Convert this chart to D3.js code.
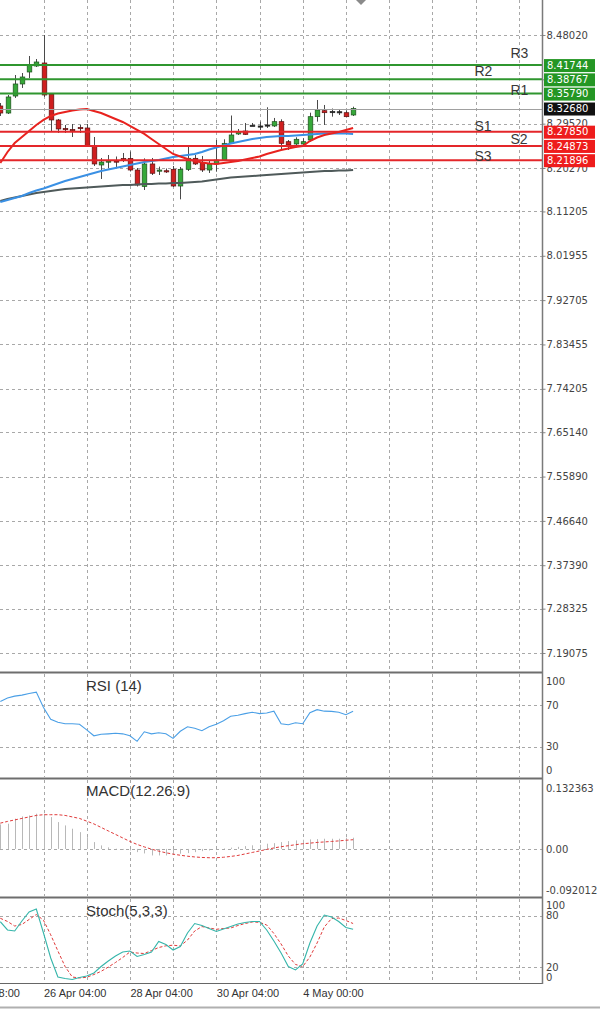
<!DOCTYPE html>
<html><head><meta charset="utf-8">
<script src="https://cdn.jsdelivr.net/npm/d3@7"></script>
<style>html,body{margin:0;padding:0;background:#fff;} svg{display:block;}</style>
</head><body>
<svg id="c" width="600" height="1012"></svg>
<script>
// ---------- DATA (H4 candles, index 0..49) ----------
const opens  = [8.3321,8.3174,8.3529,8.3780,8.4030,8.4155,8.4218,8.3571,8.3029,8.2851,8.2830,8.2872,8.2862,8.2486,8.2090,8.2163,8.2173,8.2225,8.2225,8.1985,8.1641,8.2111,8.1975,8.1970,8.1999,8.1651,8.1999,8.2229,8.2138,8.1985,8.2111,8.2194,8.2542,8.2737,8.2799,8.2915,8.2904,8.2925,8.2904,8.2994,8.2576,8.2528,8.2528,8.2611,8.3098,8.3223,8.3206,8.3202,8.3181,8.3133];
const highs  = [8.3383,8.3550,8.3967,8.4009,8.4364,8.4301,8.4802,8.3592,8.3050,8.2925,8.2945,8.2925,8.2945,8.2674,8.2236,8.2298,8.2267,8.2340,8.2371,8.2027,8.2228,8.2236,8.2055,8.2017,8.2069,8.2048,8.2486,8.2298,8.2278,8.2194,8.2611,8.2626,8.3122,8.2841,8.2966,8.2966,8.2994,8.3294,8.3071,8.3043,8.2611,8.2668,8.2647,8.3181,8.3446,8.3342,8.3268,8.3248,8.3227,8.3306];
const lows   = [8.3112,8.3154,8.3488,8.3697,8.3905,8.4134,8.3509,8.2778,8.2757,8.2757,8.2674,8.2757,8.2466,8.2069,8.1798,8.2027,8.2027,8.2152,8.1954,8.1641,8.1568,8.1881,8.1881,8.1923,8.1631,8.1373,8.1965,8.2090,8.1944,8.1923,8.1950,8.2173,8.2528,8.2716,8.2716,8.2904,8.2820,8.2862,8.2883,8.2398,8.2403,8.2459,8.2507,8.2576,8.2994,8.2925,8.3098,8.3133,8.3081,8.3112];
const closes = [8.3174,8.3509,8.3780,8.3926,8.4176,8.4239,8.3550,8.3029,8.2841,8.2830,8.2810,8.2851,8.2486,8.2111,8.2152,8.2173,8.2163,8.2184,8.1985,8.1672,8.2111,8.1917,8.1985,8.1954,8.1651,8.1999,8.2229,8.2111,8.1985,8.2111,8.2194,8.2542,8.2716,8.2785,8.2728,8.2919,8.2898,8.2919,8.2994,8.2542,8.2507,8.2626,8.2576,8.3098,8.3237,8.3181,8.3198,8.3196,8.3098,8.3268];

const maRed  = [8.2131,8.2361,8.2548,8.2674,8.2799,8.2925,8.3029,8.3112,8.3164,8.3195,8.3227,8.3247,8.3258,8.3216,8.3174,8.3112,8.3050,8.2987,8.2904,8.2820,8.2737,8.2632,8.2528,8.2424,8.2320,8.2267,8.2215,8.2173,8.2142,8.2121,8.2111,8.2131,8.2152,8.2173,8.2204,8.2236,8.2267,8.2320,8.2361,8.2403,8.2434,8.2465,8.2486,8.2590,8.2663,8.2716,8.2747,8.2778,8.2820,8.2862];
const maBlue = [8.1317,8.1359,8.1401,8.1443,8.1506,8.1558,8.1599,8.1651,8.1704,8.1756,8.1798,8.1839,8.1881,8.1923,8.1965,8.1996,8.2027,8.2059,8.2090,8.2121,8.2152,8.2173,8.2194,8.2225,8.2257,8.2278,8.2298,8.2320,8.2361,8.2413,8.2455,8.2497,8.2538,8.2570,8.2601,8.2632,8.2653,8.2674,8.2684,8.2695,8.2695,8.2705,8.2716,8.2726,8.2737,8.2747,8.2747,8.2747,8.2747,8.2737];
const maGray = [8.1338,8.1380,8.1411,8.1443,8.1474,8.1506,8.1526,8.1547,8.1568,8.1589,8.1599,8.1610,8.1620,8.1631,8.1641,8.1651,8.1662,8.1672,8.1672,8.1683,8.1693,8.1693,8.1704,8.1704,8.1714,8.1714,8.1724,8.1735,8.1745,8.1766,8.1787,8.1808,8.1829,8.1839,8.1850,8.1860,8.1870,8.1881,8.1891,8.1902,8.1912,8.1923,8.1933,8.1944,8.1954,8.1965,8.1965,8.1975,8.1975,8.1985];

const rsi = [73.9,77.1,79.0,80.0,81.5,82.9,68.0,56.6,53.7,52.2,52.2,51.7,46.3,40.5,42.0,42.4,42.9,42.4,40.5,35.1,44.4,42.4,43.4,42.4,38.0,44.9,49.3,47.8,45.4,49.3,51.7,55.1,59.5,60.5,62.0,63.4,62.0,62.6,64.4,52.2,51.2,53.2,52.2,62.9,65.9,64.4,64.2,63.4,61.0,64.4];

const macdHist = [0.0474,0.0488,0.0585,0.0629,0.0648,0.0681,0.0681,0.0616,0.0519,0.0455,0.0391,0.0325,0.0228,0.0132,0.0068,0.0030,0.0005,-0.0015,-0.0030,-0.0062,-0.0087,-0.0126,-0.0126,-0.0126,-0.0106,-0.0093,-0.0081,-0.0062,-0.0043,-0.0029,-0.0010,0.0010,0.0025,0.0040,0.0055,0.0070,0.0080,0.0101,0.0112,0.0132,0.0151,0.0165,0.0178,0.0184,0.0190,0.0197,0.0197,0.0197,0.0217,0.0217];
const macdSignal = [0.0499,0.0532,0.0561,0.0590,0.0619,0.0648,0.0662,0.0662,0.0662,0.0648,0.0619,0.0590,0.0538,0.0484,0.0416,0.0348,0.0281,0.0213,0.0145,0.0087,0.0039,-0.0004,-0.0043,-0.0074,-0.0101,-0.0122,-0.0141,-0.0155,-0.0165,-0.0170,-0.0170,-0.0161,-0.0145,-0.0126,-0.0097,-0.0068,-0.0039,-0.0010,0.0019,0.0043,0.0062,0.0081,0.0101,0.0112,0.0126,0.0135,0.0145,0.0155,0.0168,0.0178];

const stochK = [73.0,63.4,62.2,73.8,84.3,87.8,59.9,30.8,8.7,7.0,5.8,8.1,9.9,13.4,20.9,27.3,33.1,37.8,39.0,32.6,34.9,37.8,50.0,46.5,40.1,44.2,59.9,70.9,68.6,65.1,61.6,64.5,67.4,70.3,72.1,73.3,73.3,63.4,50.6,36.6,20.9,16.9,23.8,48.3,68.0,80.8,78.5,73.3,66.3,64.2];
const stochD = [77.0,73.3,68.0,69.8,75.6,81.4,74.7,57.8,39.0,20.9,8.7,7.6,8.4,11.6,15.3,20.3,25.6,31.4,37.8,36.6,36.0,39.5,43.0,45.0,45.7,44.8,51.7,62.2,67.4,65.7,64.2,65.1,65.7,68.6,70.9,72.7,72.3,69.2,59.3,47.1,33.1,23.3,20.9,32.0,48.3,66.9,76.7,77.3,74.4,70.9];

const levelNames  = ["R3","R2","R1","S1","S2","S3"];
const levelValues = [8.41744,8.38767,8.35790,8.27850,8.24873,8.21896];
const levelLabelPrices = [8.4316,8.3947,8.3550,8.2799,8.2528,8.2180];
const levelLabelIndex  = [71,66,71,66,71,66];
const currentPrice = 8.32680;

const priceTicks = [8.48020,8.38770,8.29520,8.20270,8.11205,8.01955,7.92705,7.83455,7.74205,7.65140,7.55890,7.46640,7.37390,7.28325,7.19075];
const timeLabels = ["24 Apr 08:00","26 Apr 04:00","28 Apr 04:00","30 Apr 04:00","4 May 00:00"];
const timeIndex  = [-6,6,18,30,42];
const rsiLevels = [70,30];
const stochLevels = [80,20];

// ---------- LAYOUT ----------
const svg = d3.select("#c");
const AX = 542.5;
const x  = d3.scaleLinear().domain([0,49]).range([0.3,353.1]);
const yP = d3.scaleLinear().domain([7.19075,8.48020]).range([653,35]);
const yR = d3.scaleLinear().domain([0,100]).range([777.5,674.5]);
const yM = d3.scaleLinear().domain([-0.092012,0.132363]).range([896.5,780.5]);
const yS = d3.scaleLinear().domain([0,100]).range([984.5,898.5]);
const panels = [[0,671],[674,777],[780,896],[899,983]];
const FONT = "'DejaVu Sans', sans-serif";
const ARIAL = "'Liberation Sans', Arial, sans-serif";
const gridCol = "#a8a8a8";

// vertical grid
const vIdx = d3.range(6,76,6);
const gV = svg.append("g");
panels.forEach(([t,b])=>{
  gV.selectAll(null).data(vIdx).enter().append("line")
    .attr("x1",d=>Math.round(x(d))+0.5).attr("x2",d=>Math.round(x(d))+0.5)
    .attr("y1",t).attr("y2",b)
    .attr("stroke",gridCol).attr("stroke-dasharray","3,3");
});

// horizontal price grid
svg.append("g").selectAll("line").data(priceTicks).enter().append("line")
  .attr("x1",0).attr("x2",AX).attr("y1",d=>Math.round(yP(d))+0.5).attr("y2",d=>Math.round(yP(d))+0.5)
  .attr("stroke",gridCol).attr("stroke-dasharray","3,3");
// sub grids
function hGrid(vals, sc){
  svg.append("g").selectAll("line").data(vals).enter().append("line")
    .attr("x1",0).attr("x2",AX).attr("y1",d=>Math.round(sc(d))+0.5).attr("y2",d=>Math.round(sc(d))+0.5)
    .attr("stroke",gridCol).attr("stroke-dasharray","3,3");
}
hGrid(rsiLevels,yR); hGrid([0],yM); hGrid(stochLevels,yS);

// price axis (labels)
const pAxis = d3.axisRight(yP).tickValues(priceTicks).tickFormat(d3.format(".5f")).tickSize(3).tickPadding(1);
const gpa = svg.append("g").attr("transform",`translate(${AX},0)`).call(pAxis);
gpa.select(".domain").remove();
gpa.selectAll("line").attr("stroke","#888");
gpa.selectAll("text").attr("font-family",FONT).attr("font-size",10).attr("fill","#444");

// candles
const candles = d3.range(opens.length);
const gC = svg.append("g");
gC.selectAll("line").data(candles).enter().append("line")
  .attr("x1",i=>Math.round(x(i))+0.5).attr("x2",i=>Math.round(x(i))+0.5)
  .attr("y1",i=>yP(highs[i])).attr("y2",i=>yP(lows[i]))
  .attr("stroke","#4a4a4a").attr("stroke-width",1);
gC.selectAll("rect").data(candles).enter().append("rect")
  .attr("x",i=>Math.round(x(i))-1.8).attr("width",4.6)
  .attr("y",i=>Math.min(yP(opens[i]),yP(closes[i])))
  .attr("height",i=>Math.max(1.2,Math.abs(yP(opens[i])-yP(closes[i]))))
  .attr("fill",i=>{const d=closes[i]-opens[i]; if(Math.abs(d)<0.0009) return "#222"; return d>0?"#36a83a":"#cf1f1f";})
  .attr("stroke",i=>{const d=closes[i]-opens[i]; return Math.abs(d)<0.0009?"#222":(d>0?"#1c4f1c":"#5a1010");})
  .attr("stroke-width",0.7);

// moving averages
const line = (arr, sc)=> d3.line().x((d,i)=>x(i)).y(d=>sc(d))(arr);
svg.append("path").attr("d",line(maGray,yP)).attr("fill","none").attr("stroke","#4f5a5a").attr("stroke-width",2);
svg.append("path").attr("d",line(maBlue,yP)).attr("fill","none").attr("stroke","#3a90e4").attr("stroke-width",2);
svg.append("path").attr("d",line(maRed,yP)).attr("fill","none").attr("stroke","#e8221e").attr("stroke-width",2);

// current price line
svg.append("line").attr("x1",0).attr("x2",AX).attr("y1",Math.round(yP(currentPrice))+0.5).attr("y2",Math.round(yP(currentPrice))+0.5)
  .attr("stroke","#a0a0a0").attr("stroke-width",1);

// pivot level lines
const lvl = d3.range(levelValues.length);
svg.append("g").selectAll("line").data(lvl).enter().append("line")
  .attr("x1",0).attr("x2",AX).attr("y1",i=>yP(levelValues[i])).attr("y2",i=>yP(levelValues[i]))
  .attr("stroke",i=>levelNames[i][0]==="R"?"#2f962f":"#e4262a").attr("stroke-width",2);
svg.append("g").selectAll("text").data(lvl).enter().append("text")
  .attr("x",i=>x(levelLabelIndex[i])-1).attr("y",i=>yP(levelLabelPrices[i]))
  .attr("font-family",ARIAL).attr("font-size",14).attr("fill","#383838")
  .text(i=>levelNames[i]);

// price boxes
const boxes = lvl.map(i=>({v:levelValues[i],c:levelNames[i][0]==="R"?"#249624":"#ee1c1c"}));
boxes.push({v:currentPrice,c:"#111"});
const gB = svg.append("g").selectAll("g").data(boxes).enter().append("g")
  .attr("transform",d=>`translate(544,${yP(d.v)})`);
gB.append("rect").attr("x",0).attr("y",-6).attr("width",51).attr("height",13).attr("fill",d=>d.c);
gB.append("text").attr("x",3).attr("y",0).attr("dy","0.36em").attr("font-family",FONT).attr("font-size",10)
  .attr("fill","#fff").text(d=>d.v.toFixed(5));

// RSI
svg.append("path").attr("d",line(rsi,yR)).attr("fill","none").attr("stroke","#4a9fe6").attr("stroke-width",1.1);
// MACD
svg.append("g").selectAll("line").data(macdHist).enter().append("line")
  .attr("x1",(d,i)=>Math.round(x(i))+0.5).attr("x2",(d,i)=>Math.round(x(i))+0.5)
  .attr("y1",yM(0)).attr("y2",d=>yM(d)).attr("stroke","#b8b8b8").attr("stroke-width",1);
svg.append("path").attr("d",line(macdSignal,yM)).attr("fill","none").attr("stroke","#e03a3a").attr("stroke-width",1).attr("stroke-dasharray","3,2");
// Stoch
svg.append("path").attr("d",line(stochD,yS)).attr("fill","none").attr("stroke","#e03a3a").attr("stroke-width",1).attr("stroke-dasharray","3,2");
svg.append("path").attr("d",line(stochK,yS)).attr("fill","none").attr("stroke","#35b5aa").attr("stroke-width",1.1);

// sub-axis labels
function subLabels(items){
  svg.append("g").selectAll("text").data(items).enter().append("text")
    .attr("x",546).attr("y",d=>d.y).attr("dy","0.36em")
    .attr("font-family",FONT).attr("font-size",10).attr("fill","#444").text(d=>d.t);
}
subLabels([{t:"100",y:yR(100)+6.5},{t:"70",y:yR(70)},{t:"30",y:yR(30)},{t:"0",y:yR(0)-7.5}]);
subLabels([{t:"0.132363",y:yM(0.132363)+7.5},{t:"0.00",y:yM(0)},{t:"-0.092012",y:yM(-0.092012)-6.5}]);
subLabels([{t:"100",y:yS(100)+6.5},{t:"80",y:yS(80)},{t:"20",y:yS(20)},{t:"0",y:yS(0)-7.5}]);

// indicator titles
[["RSI (14)",690.5],["MACD(12.26.9)",795.5],["Stoch(5,3,3)",916]].forEach(([t,yy])=>{
  svg.append("text").attr("x",86).attr("y",yy).attr("font-family",ARIAL).attr("font-size",15).attr("fill","#333").text(t);
});

// separators / frame
[672.5,778.5,897.5].forEach(yy=>{
  svg.append("line").attr("x1",0).attr("x2",AX).attr("y1",yy).attr("y2",yy).attr("stroke","#6e6e6e").attr("stroke-width",2);
});
svg.append("line").attr("x1",0).attr("x2",AX).attr("y1",983.5).attr("y2",983.5).attr("stroke","#666").attr("stroke-width",1);
svg.append("line").attr("x1",AX).attr("x2",AX).attr("y1",0).attr("y2",984).attr("stroke","#7a7a7a").attr("stroke-width",1.5);
svg.append("line").attr("x1",0).attr("x2",600).attr("y1",1007.5).attr("y2",1007.5).attr("stroke","#b0b0b0").attr("stroke-width",2);

// time axis
const tAxis = d3.axisBottom(x).tickValues(timeIndex).tickFormat((d,i)=>timeLabels[i]).tickSize(0).tickPadding(0);
const gta = svg.append("g").attr("transform","translate(0,988)").call(tAxis);
gta.select(".domain").remove();
gta.selectAll("text").attr("text-anchor","start").attr("dy","0.71em").attr("y",1)
  .attr("font-family",ARIAL).attr("font-size",11).attr("fill","#333");

// chart shift marker
svg.append("path").attr("d","M356,0 L366,0 L361,5 Z").attr("fill","#8a8a8a");
</script>
</body></html>
